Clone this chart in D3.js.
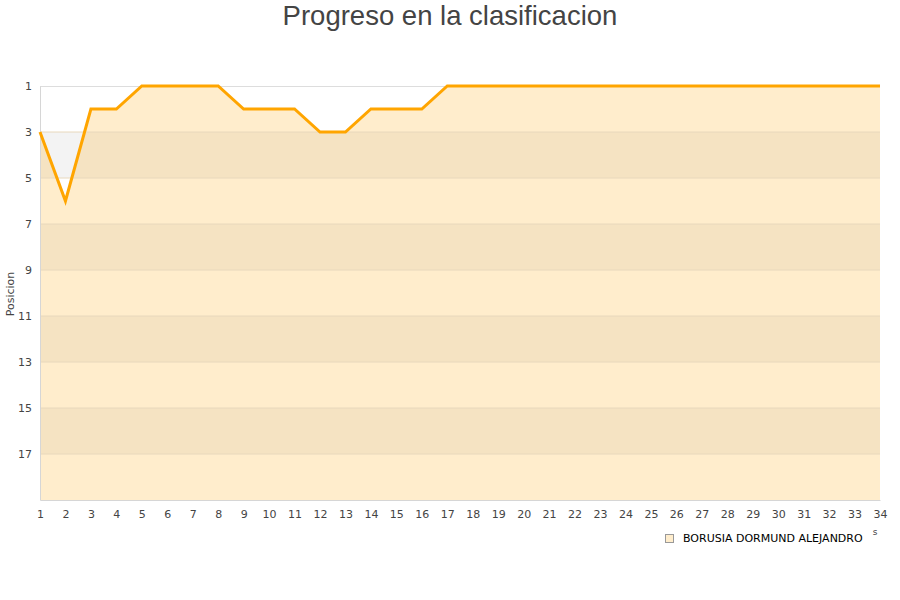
<!DOCTYPE html>
<html>
<head>
<meta charset="utf-8">
<script src="https://d3js.org/d3.v7.min.js"></script>
<style>
body { margin: 0; background: #fff; }
</style>
</head>
<body>
<script>
// chart data
var jornadas = d3.range(1, 35);
var posiciones = [3, 6, 2, 2, 1, 1, 1, 1, 2, 2, 2, 3, 3, 2, 2, 2, 1,
  1, 1, 1, 1, 1, 1, 1, 1, 1, 1, 1, 1, 1, 1, 1, 1, 1];
var yTicks = [1, 3, 5, 7, 9, 11, 13, 15, 17];
var equipo = "BORUSIA DORMUND ALEJANDRO";
var titulo = "Progreso en la clasificacion";

var width = 900, height = 600;
var pLeft = 40, pRight = 880, pTop = 86, pBottom = 500;

var svg = d3.select("body").append("svg")
  .attr("width", width)
  .attr("height", height);

var x = d3.scaleLinear().domain([1, 34]).range([pLeft, pRight]);
var y = d3.scaleLinear().domain([1, 19]).range([pTop, pBottom]);

// alternating bands behind the area
var bands = [[3, 5], [7, 9], [11, 13], [15, 17]];
svg.selectAll("rect.band")
  .data(bands).enter().append("rect")
  .attr("x", pLeft)
  .attr("width", pRight - pLeft)
  .attr("y", function(d) { return y(d[0]); })
  .attr("height", function(d) { return y(d[1]) - y(d[0]); })
  .attr("fill", "#f3f3f3");

var serie = jornadas.map(function(j, i) { return {j: j, p: posiciones[i]}; });

// filled area under the line
var area = d3.area()
  .x(function(d) { return x(d.j); })
  .y0(pBottom)
  .y1(function(d) { return y(d.p); });
svg.append("path")
  .datum(serie)
  .attr("d", area)
  .attr("fill", "#ffa500")
  .attr("fill-opacity", 0.2);

// grid lines
svg.selectAll("line.grid")
  .data(yTicks.slice(1)).enter().append("line")
  .attr("x1", pLeft).attr("x2", pRight)
  .attr("y1", function(d) { return y(d); })
  .attr("y2", function(d) { return y(d); })
  .attr("stroke", "#e8d8bc")
  .attr("stroke-width", 1);
svg.append("line")
  .attr("x1", pLeft).attr("x2", pRight)
  .attr("y1", y(1) + 0.5).attr("y2", y(1) + 0.5)
  .attr("stroke", "#dddddd");

// axes
var yAxis = d3.axisLeft(y).tickValues(yTicks).tickSize(0).tickPadding(8);
svg.append("g")
  .attr("transform", "translate(" + pLeft + ",0)")
  .call(yAxis)
  .call(function(g) { g.select(".domain").attr("stroke", "#d6d6d6"); });

var xAxis = d3.axisBottom(x).tickValues(jornadas).tickSize(0).tickPadding(10)
  .tickFormat(d3.format("d"));
svg.append("g")
  .attr("transform", "translate(0," + pBottom + ")")
  .call(xAxis)
  .call(function(g) { g.select(".domain").attr("stroke", "#d6d6d6"); });

svg.selectAll(".tick text")
  .attr("font-family", "DejaVu Sans")
  .attr("font-size", 11)
  .attr("fill", "#444");

// the line
var line = d3.line()
  .x(function(d) { return x(d.j); })
  .y(function(d) { return y(d.p); });
svg.append("path")
  .datum(serie)
  .attr("d", line)
  .attr("fill", "none")
  .attr("stroke", "#ffa500")
  .attr("stroke-width", 3);

// title
svg.append("text")
  .attr("x", width / 2)
  .attr("y", 25)
  .attr("text-anchor", "middle")
  .attr("font-family", "Liberation Sans, Arial")
  .attr("font-size", 27.5)
  .attr("fill", "#444")
  .text(titulo);

// y label
svg.append("text")
  .attr("transform", "translate(14,294) rotate(-90)")
  .attr("text-anchor", "middle")
  .attr("font-family", "DejaVu Sans")
  .attr("font-size", 11)
  .attr("fill", "#444")
  .text("Posicion");

// clipped x title remnant
svg.append("text")
  .attr("x", 875)
  .attr("y", 535)
  .attr("text-anchor", "middle")
  .attr("font-family", "DejaVu Sans")
  .attr("font-size", 9)
  .attr("fill", "#444")
  .text("s");

// legend
svg.append("rect")
  .attr("x", 665.5).attr("y", 534.5)
  .attr("width", 8).attr("height", 8)
  .attr("fill", "#ffedcc")
  .attr("stroke", "#999");
svg.append("text")
  .attr("x", 683)
  .attr("y", 542)
  .attr("font-family", "DejaVu Sans")
  .attr("font-size", 11)
  .attr("fill", "#000")
  .text(equipo);
</script>
</body>
</html>
